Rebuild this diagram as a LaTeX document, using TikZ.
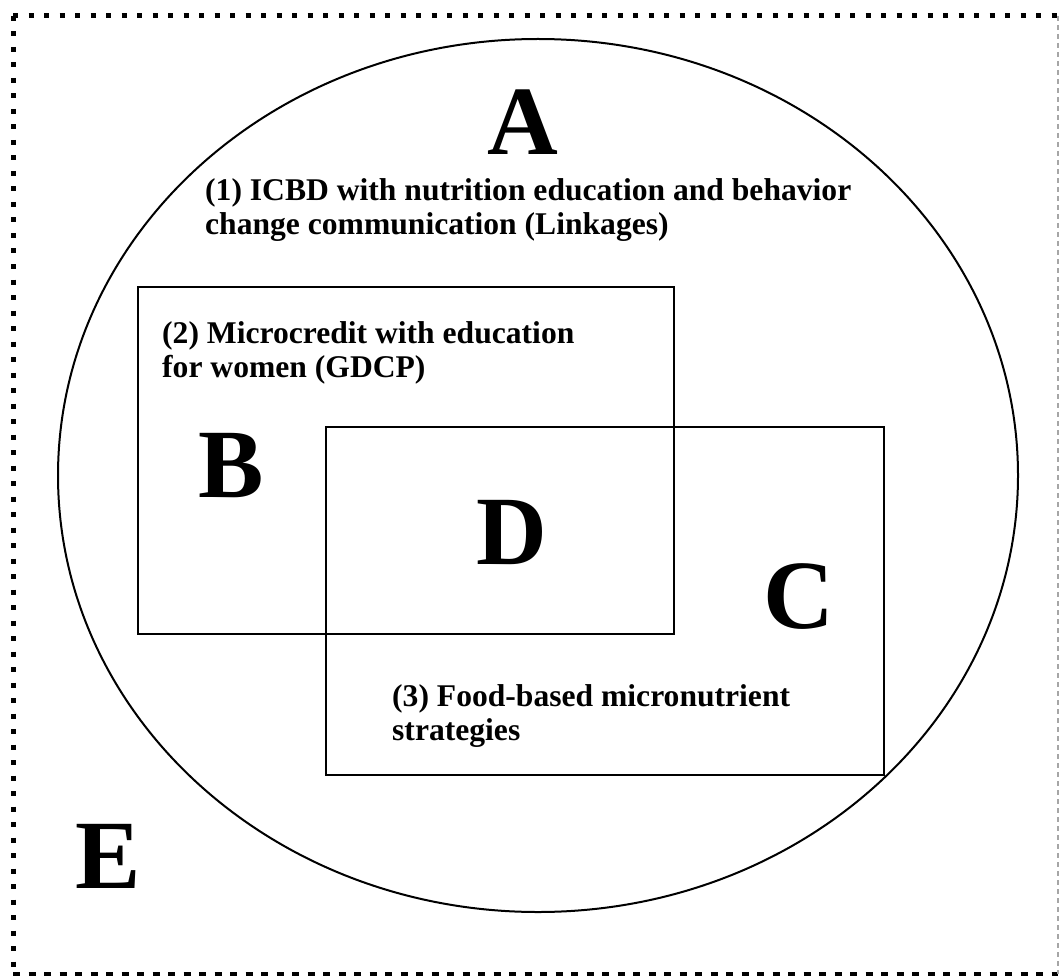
\documentclass[tikz,border=0pt]{standalone}
\usepackage{fontspec}
\setmainfont{Liberation Serif}
\usetikzlibrary{positioning}

\begin{document}
\begin{tikzpicture}
	[x=1pt,y=-1pt,
	dotedge/.style={line width=5pt,dash pattern=on 5pt off 10.5pt},
	dashedge/.style={line width=3.5pt,dash pattern=on 7pt off 8.5pt},
	greyedge/.style={gray!70,line width=1.5pt,dash pattern=on 5pt off 4pt},
	setline/.style={draw,line width=2pt},
	caption/.style={font=\bfseries\fontsize{31.6}{34}\selectfont,align=left,anchor=north west,inner sep=0pt},
	letter/.style={font=\bfseries\fontsize{98}{98}\selectfont,anchor=base,inner sep=0pt}]
	\useasboundingbox (0,0) rectangle (1059,976);
	% outer frame
	\coordinate (nw) at (13,16);
	\coordinate (ne) at (1058,16);
	\coordinate (sw) at (13,974);
	\coordinate (se) at (1058,974);
	\draw[dotedge] (nw) -- (ne);
	\draw[dotedge] (nw) -- (sw);
	\draw[dashedge] (sw) -- (se);
	\draw[greyedge] (ne) -- (se);
	% the sets
	\coordinate (acentre) at (538,475.5);
	\draw[setline] (acentre) ellipse [x radius=480pt,y radius=436.5pt];
	\coordinate (bnw) at (138,287);
	\coordinate (bse) at (674,634);
	\draw[setline] (bnw) rectangle (bse);
	\coordinate (cnw) at (326,427);
	\coordinate (cse) at (884,775);
	\draw[setline] (cnw) rectangle (cse);
	% captions
	\node[caption] (linkages) at (205,178) {(1) ICBD with nutrition education and behavior\\change communication (Linkages)};
	\node[caption] (gdcp) at (162,321) {(2) Microcredit with education\\for women (GDCP)};
	\node[caption] (food) at (392,684) {(3) Food-based micronutrient\\strategies};
	% letters
	\node[letter] (la) at (523,155) {A};
	\node[letter] (lb) at (231,497) {B};
	\node[letter] (ld) at (512,564) {D};
	\node[letter] (lc) at (799,628) {C};
	\node[letter] (le) at (108,888) {E};
\end{tikzpicture}
\end{document}
